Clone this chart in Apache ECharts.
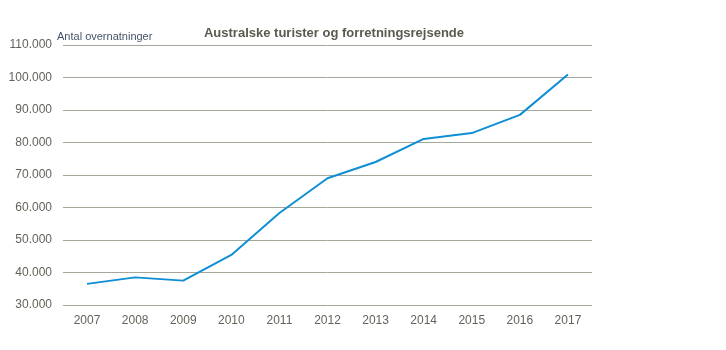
<!DOCTYPE html>
<html><head><meta charset="utf-8">
<script src="https://cdn.jsdelivr.net/npm/echarts@6/dist/echarts.min.js"></script>
<style>html,body{margin:0;padding:0;background:#fff}#c{width:726px;height:350px}</style>
</head><body><div id="c"></div>
<script>
const categories = ['2007','2008','2009','2010','2011','2012','2013','2014','2015','2016','2017'];
const overnatninger = [36500, 38500, 37500, 45400, 58300, 69000, 74000, 81100, 82900, 88500, 100900];
const yTicks = [30000, 40000, 50000, 60000, 70000, 80000, 90000, 100000, 110000];

const chart = echarts.init(document.getElementById('c'), null, {renderer:'canvas'});
const fmt = v => String(v).replace(/\B(?=(\d{3})+(?!\d))/g, '.');
chart.setOption({
  animation: false,
  title: {
    text: 'Australske turister og forretningsrejsende',
    left: 329, top: 22, textAlign: 'center',
    textStyle: {fontFamily: 'Liberation Sans', fontSize: 13, fontWeight: 'bold', color: '#5a5a4f'}
  },
  graphic: [{
    type: 'text', left: 57, top: 31,
    style: {text: 'Antal overnatninger', fontFamily: 'Liberation Sans', fontSize: 11, fill: '#44546A'}
  }],
  grid: {left: 63, right: 134, top: 45, bottom: 45, containLabel: false},
  xAxis: {
    type: 'category', data: categories, boundaryGap: true,
    axisLine: {show: false}, axisTick: {show: false},
    axisLabel: {color: '#63635a', fontFamily: 'Liberation Sans', fontSize: 12, margin: 10}
  },
  yAxis: {
    type: 'value', min: yTicks[0], max: yTicks[yTicks.length-1], interval: 10000,
    axisLine: {show: false}, axisTick: {show: false},
    splitLine: {lineStyle: {color: '#a6a69a', width: 1}},
    axisLabel: {color: '#63635a', fontFamily: 'Liberation Sans', fontSize: 12, margin: 11, formatter: fmt}
  },
  series: [{
    type: 'line', data: overnatninger, symbol: 'none',
    lineStyle: {color: '#0e8fd5', width: 2}
  }]
});
</script></body></html>
